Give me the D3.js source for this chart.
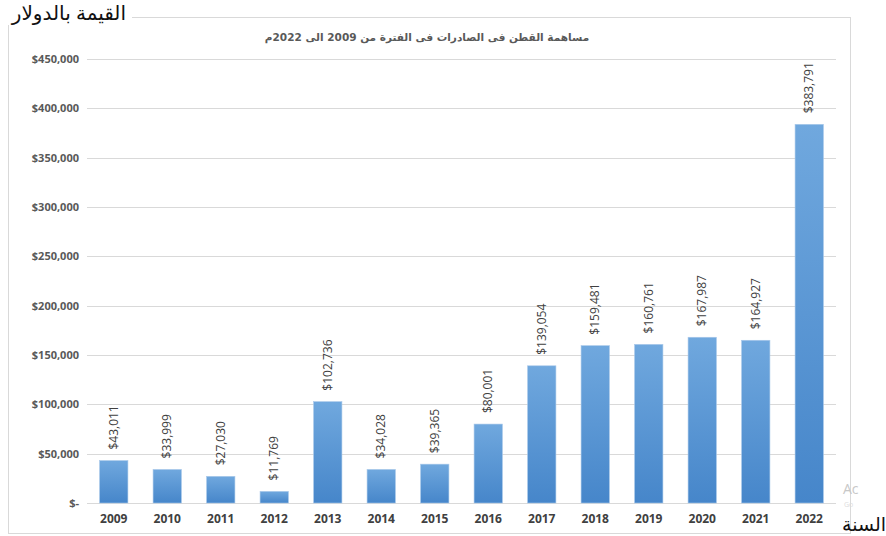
<!DOCTYPE html>
<html>
<head>
<meta charset="utf-8">
<script src="https://cdn.jsdelivr.net/npm/d3@7"></script>
<style>
  body { margin: 0; background: #fff; }
  svg { display: block; }
</style>
</head>
<body>
<div id="chart"></div>
<script>
// Cotton export contribution chart (2009 - 2022)

const years = ["2009", "2010", "2011", "2012", "2013", "2014", "2015",
    "2016", "2017", "2018", "2019", "2020", "2021", "2022"];
const values = [43011, 33999, 27030, 11769, 102736, 34028, 39365,
    80001, 139054, 159481, 160761, 167987, 164927, 383791];
const yTicks = [0, 50000, 100000, 150000, 200000, 250000, 300000, 350000, 400000, 450000];

const W = 886, H = 536;
const plot = { left: 87, right: 836, top: 59, bottom: 503 };

const svg = d3.select("#chart")
    .append("svg")
    .attr("width", W)
    .attr("height", H);

// chart frame
svg.append("rect")
    .attr("x", 8.5)
    .attr("y", 17.5)
    .attr("width", 842)
    .attr("height", 516)
    .attr("fill", "#fff")
    .attr("stroke", "#d9d9d9");

// gradient for bars
const defs = svg.append("defs");
const grad = defs.append("linearGradient")
    .attr("id", "barGrad")
    .attr("x1", 0).attr("y1", 0).attr("x2", 0).attr("y2", 1);
grad.append("stop").attr("offset", "0%").attr("stop-color", "#70a8de");
grad.append("stop").attr("offset", "100%").attr("stop-color", "#4686ca");

const x = d3.scaleBand()
    .domain(years)
    .range([plot.left, plot.right])
    .paddingInner(0.47)
    .paddingOuter(0.235);

const y = d3.scaleLinear()
    .domain([0, 450000])
    .range([plot.bottom, plot.top]);

// grid lines
svg.append("g")
    .selectAll("line")
    .data(yTicks)
    .enter().append("line")
    .attr("x1", plot.left)
    .attr("x2", plot.right)
    .attr("y1", d => Math.round(y(d)) + 0.5)
    .attr("y2", d => Math.round(y(d)) + 0.5)
    .attr("stroke", "#d9d9d9")
    .attr("stroke-width", 1);

// y axis labels
const fmt = d3.format(",");
const yAxis = svg.append("g")
    .attr("transform", `translate(${plot.left}, 0)`)
    .call(d3.axisLeft(y).tickValues(yTicks).tickSize(0).tickPadding(8)
        .tickFormat(d => d === 0 ? "$-" : "$" + fmt(d)));
yAxis.select(".domain").remove();
yAxis.selectAll("text")
    .attr("font-family", "'Open Sans', 'Noto Sans', sans-serif")
    .attr("font-size", 11)
    .attr("font-weight", "bold")
    .attr("fill", "#595959");

// x axis labels
const xAxis = svg.append("g")
    .attr("transform", `translate(0, ${plot.bottom})`)
    .call(d3.axisBottom(x).tickSize(0).tickPadding(11));
xAxis.select(".domain").remove();
xAxis.selectAll("text")
    .attr("font-family", "'Open Sans', 'Noto Sans', sans-serif")
    .attr("font-size", 12)
    .attr("font-weight", "bold")
    .attr("fill", "#404040");

// bars
svg.append("g")
    .selectAll("rect")
    .data(years)
    .enter().append("rect")
    .attr("x", d => x(d))
    .attr("y", (d, i) => y(values[i]))
    .attr("width", x.bandwidth())
    .attr("height", (d, i) => y(0) - y(values[i]))
    .attr("fill", "url(#barGrad)")
    .attr("stroke", "#a9c8ea")
    .attr("stroke-width", 0.6);

// value labels (rotated)
svg.append("g")
    .selectAll("text")
    .data(years)
    .enter().append("text")
    .attr("transform", (d, i) =>
        `translate(${x(d) + x.bandwidth() / 2 + 4}, ${y(values[i]) - 11}) rotate(-90)`)
    .attr("text-anchor", "start")
    .attr("font-family", "'Open Sans', 'Noto Sans', sans-serif")
    .attr("font-size", 12)
    .attr("fill", "#404040")
    .text((d, i) => "$" + fmt(values[i]));

// chart title
svg.append("text")
    .attr("x", 427)
    .attr("y", 41)
    .attr("text-anchor", "middle")
    .attr("direction", "rtl")
    .attr("font-family", "'DejaVu Sans', sans-serif")
    .attr("font-size", 10.5)
    .attr("font-weight", "bold")
    .attr("fill", "#595959")
    .text("مساهمة القطن فى الصادرات فى الفترة من 2009 الى 2022م");

// axis captions outside the frame
svg.append("rect")
    .attr("x", 0).attr("y", 0)
    .attr("width", 132).attr("height", 25)
    .attr("fill", "#fff");
svg.append("text")
    .attr("x", 126)
    .attr("y", 20)
    .attr("text-anchor", "start")
    .attr("direction", "rtl")
    .attr("font-family", "'Noto Sans', 'DejaVu Sans', sans-serif")
    .attr("font-size", 20)
    .attr("fill", "#111")
    .text("القيمة بالدولار");

svg.append("text")
    .attr("x", 886)
    .attr("y", 531)
    .attr("text-anchor", "start")
    .attr("direction", "rtl")
    .attr("font-family", "'Noto Sans', 'DejaVu Sans', sans-serif")
    .attr("font-size", 19)
    .attr("fill", "#111")
    .text("السنة");

// faint watermark remnants
svg.append("text")
    .attr("x", 843).attr("y", 494)
    .attr("font-family", "'Open Sans', sans-serif")
    .attr("font-size", 14)
    .attr("fill", "#c8c8c8")
    .text("Ac");
svg.append("text")
    .attr("x", 844).attr("y", 507)
    .attr("font-family", "'Open Sans', sans-serif")
    .attr("font-size", 7)
    .attr("fill", "#dcdcdc")
    .text("Go");
</script>
</body>
</html>
